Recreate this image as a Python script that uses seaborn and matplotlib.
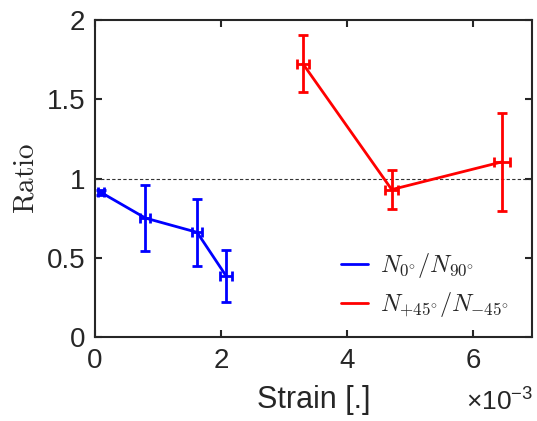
import numpy as np
import pandas as pd
import matplotlib
matplotlib.use("Agg")
import matplotlib.pyplot as plt
import seaborn as sns
from matplotlib.ticker import FuncFormatter

# values (strain in 1e-3 units)
strain_0_90 = [0.09, 0.80, 1.62, 2.08]
ratio_0_90 = [0.913, 0.75, 0.66, 0.385]
yerr_0_90 = [0.015, 0.21, 0.21, 0.165]
xerr_0_90 = [0.05, 0.08, 0.08, 0.09]

strain_45 = [3.30, 4.71, 6.46]
ratio_45 = [1.725, 0.93, 1.105]
yerr_45 = [0.18, 0.125, 0.31]
xerr_45 = [0.09, 0.10, 0.13]

label_0_90 = r'$N_{0^{\circ}}/N_{90^{\circ}}$'
label_45 = r'$N_{+45^{\circ}}/N_{-45^{\circ}}$'

sns.set_style("ticks")
plt.rcParams['font.family'] = ['Liberation Sans', 'DejaVu Sans']
plt.rcParams['mathtext.fontset'] = 'custom'
plt.rcParams['mathtext.rm'] = 'Liberation Sans'
plt.rcParams['mathtext.it'] = 'Liberation Sans:italic'

df = pd.DataFrame({
    'Strain': np.array(strain_0_90 + strain_45) * 1e-3,
    'Ratio': ratio_0_90 + ratio_45,
    'Series': [label_0_90] * len(strain_0_90) + [label_45] * len(strain_45),
})

fig, ax = plt.subplots(figsize=(5.37, 4.21), dpi=100)
fig.subplots_adjust(left=0.177, right=0.991, top=0.952, bottom=0.2)

ax.axhline(1, color='#333333', ls='--', lw=0.8, dashes=(3, 2), zorder=1)

sns.lineplot(data=df, x='Strain', y='Ratio', hue='Series',
             palette={label_0_90: '#0000ff', label_45: '#ff0000'},
             lw=2, ax=ax, zorder=3)

ax.errorbar(np.array(strain_0_90) * 1e-3, ratio_0_90, yerr=yerr_0_90,
            xerr=np.array(xerr_0_90) * 1e-3, fmt='none', ecolor='#0000ff',
            elinewidth=2, capsize=3.5, capthick=2, zorder=3)
ax.errorbar(np.array(strain_45) * 1e-3, ratio_45, yerr=yerr_45,
            xerr=np.array(xerr_45) * 1e-3, fmt='none', ecolor='#ff0000',
            elinewidth=2, capsize=3.5, capthick=2, zorder=3)

ax.set_xlim(0, 6.94e-3)
ax.set_ylim(0, 2)
ax.set_xticks([0, 2e-3, 4e-3, 6e-3])
ax.xaxis.set_major_formatter(FuncFormatter(lambda v, p: f'{v * 1e3:g}'))
ax.set_yticks([0, 0.5, 1, 1.5, 2])
ax.set_yticklabels(['0', '0.5', '1', '1.5', '2'])

ax.tick_params(direction='in', top=True, right=True, length=5, width=1.5,
               labelsize=20, colors='#262626', labelcolor='#262626')
ax.tick_params(axis='x', pad=8)
ax.tick_params(axis='y', pad=7)
for s in ax.spines.values():
    s.set_visible(True)
    s.set_linewidth(1.5)
    s.set_color('#262626')

ax.set_xlabel('Strain [.]', fontsize=22, color='#262626', labelpad=8)
ax.set_ylabel(r'$\mathrm{Ratio}$', fontsize=21, color='#262626', labelpad=5,
              math_fontfamily='cm')
ax.text(1.003, -0.25, r'$\times10^{-3}$', transform=ax.transAxes,
        ha='right', va='bottom', fontsize=19, color='#262626')

ax.legend(loc='upper left', frameon=False, handlelength=1.1,
          prop={'size': 17.5, 'math_fontfamily': 'cm'},
          borderaxespad=0, borderpad=0, labelspacing=0.4, handletextpad=0.5,
          bbox_to_anchor=(0.563, 0.27))

fig.savefig('out.png', dpi=100)
